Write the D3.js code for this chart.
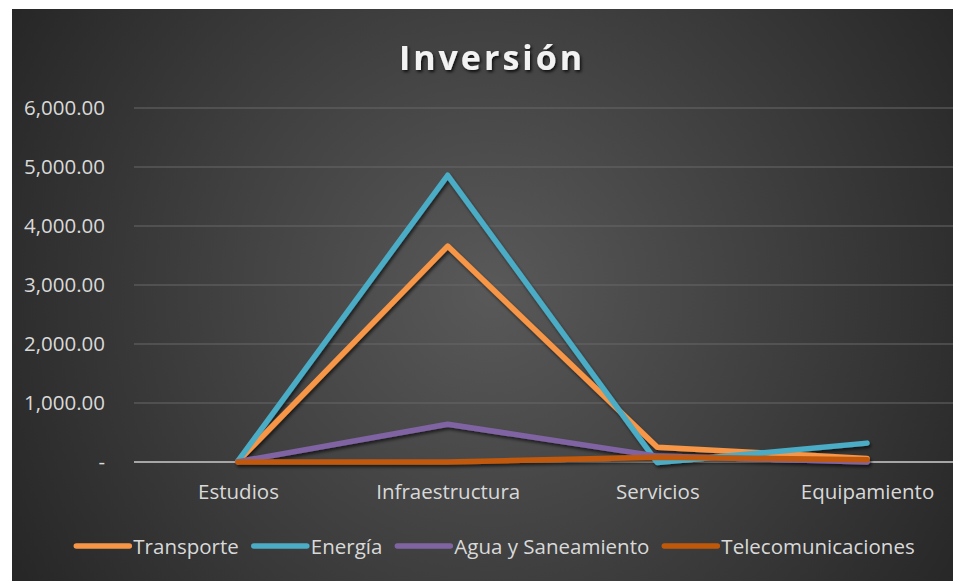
<!DOCTYPE html>
<html><head><meta charset="utf-8">
<script src="https://cdn.jsdelivr.net/npm/d3@7"></script>
<style>html,body{margin:0;padding:0;background:#fff;}svg{display:block;}</style>
</head><body>
<script>
const categories = ["Estudios","Infraestructura","Servicios","Equipamiento"];
const seriesNames = ["Transporte","Energía","Agua y Saneamiento","Telecomunicaciones"];
const transporte = [10, 3660, 250, 60];
const energia = [20, 4860, -10, 320];
const agua = [5, 640, 100, 0];
const telecom = [0, 0, 80, 40];
const yTicks = [0,1000,2000,3000,4000,5000,6000];
const colors = ["#F79646","#4BACC6","#8064A2","#C0580A"];
const allSeries = [transporte, energia, agua, telecom];

const W = 953, H = 581;
const svg = d3.select("body").append("svg").attr("width", W).attr("height", H);
const defs = svg.append("defs");
const rg = defs.append("radialGradient").attr("id","bg").attr("gradientUnits","userSpaceOnUse")
  .attr("cx",490).attr("cy",290).attr("r",560);
rg.append("stop").attr("offset","0%").attr("stop-color","#595959");
rg.append("stop").attr("offset","100%").attr("stop-color","#262626");
const sh = defs.append("filter").attr("id","sh").attr("x","-10%").attr("y","-10%").attr("width","130%").attr("height","130%");
sh.append("feDropShadow").attr("dx",1.5).attr("dy",2.5).attr("stdDeviation",1.8).attr("flood-color","#000").attr("flood-opacity",0.6);
const tsh = defs.append("filter").attr("id","tsh");
tsh.append("feDropShadow").attr("dx",1.5).attr("dy",2).attr("stdDeviation",1.5).attr("flood-color","#000").attr("flood-opacity",0.8);

svg.append("rect").attr("x",12).attr("y",9).attr("width",W-12).attr("height",H-9).attr("fill","url(#bg)");

const font = "'Open Sans', sans-serif";
svg.append("text").attr("x",492).attr("y",70).attr("text-anchor","middle")
  .attr("font-family",font).attr("font-weight","bold").attr("font-size",34)
  .attr("letter-spacing",3).attr("fill","#f2f2f2").attr("filter","url(#tsh)").text("Inversión");

const x = d3.scalePoint().domain(categories).range([238, 867]);
const y = d3.scaleLinear().domain([0,6000]).range([462,108]);

const grid = svg.append("g");
grid.selectAll("line").data(yTicks.filter(d=>d>0)).join("line")
  .attr("x1",134).attr("x2",W).attr("y1",d=>y(d)).attr("y2",d=>y(d))
  .attr("stroke","#686868").attr("stroke-width",1);

const yAxis = d3.axisLeft(y).tickValues(yTicks).tickSize(0)
  .tickFormat(d => d===0 ? "-" : d3.format(",.2f")(d));
const ya = svg.append("g").attr("transform","translate(105,0)").call(yAxis);
ya.select(".domain").remove();
ya.selectAll("text").attr("font-family",font).attr("font-size",20.5).attr("fill","#d9d9d9").attr("x",0);

svg.append("line").attr("x1",134).attr("x2",W).attr("y1",y(0)).attr("y2",y(0))
  .attr("stroke","#a6a6a6").attr("stroke-width",2);

const xAxis = d3.axisBottom(x).tickSize(0);
const xa = svg.append("g").attr("transform","translate(0,481)").call(xAxis);
xa.select(".domain").remove();
xa.selectAll("text").attr("font-family",font).attr("font-size",20.5).attr("fill","#d9d9d9");

const line = d3.line().x((d,i)=>x(categories[i])).y(d=>y(d));
const lg = svg.append("g").attr("filter","url(#sh)");
allSeries.forEach((s,k)=>{
  lg.append("path").datum(s).attr("d",line).attr("fill","none")
    .attr("stroke",colors[k]).attr("stroke-width",5.5)
    .attr("stroke-linejoin","round").attr("stroke-linecap","round");
});

// legend
const leg = svg.append("g");
let cx = 0;
seriesNames.forEach((n,k)=>{
  const g = leg.append("g").attr("transform",`translate(${cx},0)`);
  g.append("line").attr("x1",3).attr("x2",56).attr("y1",0).attr("y2",0)
    .attr("stroke",colors[k]).attr("stroke-width",5.5).attr("stroke-linecap","round");
  const t = g.append("text").attr("x",60).attr("y",7.5).attr("font-family",font).attr("font-size",20.5)
    .attr("fill","#d9d9d9").text(n);
  const w = t.node().getComputedTextLength();
  cx += 60 + w + 12;
});
const legW = cx - 12;
leg.attr("transform",`translate(${494 - legW/2},546)`);
</script>
</body></html>
